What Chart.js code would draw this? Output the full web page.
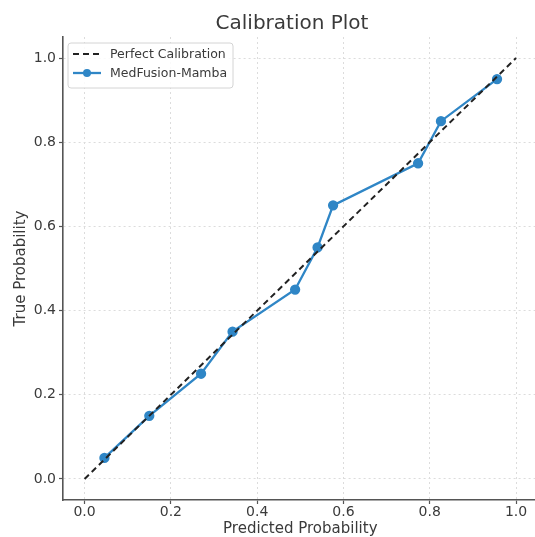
<!DOCTYPE html>
<html>
<head>
<meta charset="utf-8">
<script src="https://cdn.jsdelivr.net/npm/chart.js@4/dist/chart.umd.min.js"></script>
<style>
  html, body { margin: 0; padding: 0; background: #fff; overflow: hidden; }
  #calib { position: absolute; left: 0; top: 0; }
</style>
</head>
<body>
<canvas id="calib" width="584" height="545"></canvas>
<script>
const perfectX = [0, 1];
const perfectY = [0, 1];
const predictedProb = [0.046, 0.15, 0.27, 0.343, 0.488, 0.54, 0.576, 0.773, 0.826, 0.956];
const trueProb = [0.05, 0.15, 0.25, 0.35, 0.45, 0.55, 0.65, 0.75, 0.85, 0.95];
const tickValues = [0, 0.2, 0.4, 0.6, 0.8, 1.0];

const textColor = "#3a3a3a";
const blue = "#2f86c6";

// the source image has its title a bit left of the axes centre
const titleShift = {
  id: "titleShift",
  afterLayout(chart) {
    if (chart.titleBlock) {
      chart.titleBlock.left = 0;
      chart.titleBlock.right = 584;
    }
  }
};

// legend drawn as a framed box inside the plot, matplotlib style
const boxLegend = {
  id: "boxLegend",
  afterDatasetsDraw(chart) {
    const ctx = chart.ctx;
    const x = 68, y = 43, w = 165, h = 45;
    ctx.save();
    ctx.fillStyle = "rgba(255,255,255,0.85)";
    ctx.strokeStyle = "#d4d4d4";
    ctx.lineWidth = 1;
    ctx.beginPath();
    ctx.roundRect(x, y, w, h, 3);
    ctx.fill();
    ctx.stroke();
    ctx.font = "12.5px 'DejaVu Sans'";
    ctx.textBaseline = "middle";
    chart.data.datasets.forEach((ds, i) => {
      const ly = 54 + i * 19;
      ctx.strokeStyle = ds.borderColor;
      ctx.lineWidth = ds.borderWidth;
      ctx.setLineDash(ds.borderDash || []);
      ctx.beginPath();
      ctx.moveTo(73, ly);
      ctx.lineTo(101, ly);
      ctx.stroke();
      ctx.setLineDash([]);
      if (ds.pointRadius > 0) {
        ctx.fillStyle = ds.pointBackgroundColor;
        ctx.beginPath();
        ctx.arc(87, ly, ds.pointRadius, 0, Math.PI * 2);
        ctx.fill();
      }
      ctx.fillStyle = textColor;
      ctx.fillText(ds.label, 110, ly + 1);
    });
    ctx.restore();
  }
};

function axisOptions(title, side) {
  return {
    type: "linear",
    position: side,
    min: -0.05,
    max: 1.05,
    afterBuildTicks: (scale) => {
      scale.ticks = tickValues.map((v) => ({ value: v }));
    },
    afterFit: (scale) => {
      if (side === "left") scale.width = 63;
      else scale.height = 45;
      scale.paddingLeft = 0;
      scale.paddingRight = 0;
      scale.paddingTop = 0;
      scale.paddingBottom = 0;
    },
    ticks: {
      color: textColor,
      font: { family: "DejaVu Sans", size: 14 },
      padding: side === "left" ? 3 : 0,
      callback: (v) => v.toFixed(1)
    },
    grid: {
      color: "#dcdcdc",
      lineWidth: 1,
      tickColor: "#555",
      tickLength: 4,
      tickWidth: 1.2
    },
    border: { color: "#555", width: 1.6, dash: [2, 3] },
    title: {
      display: true,
      text: title,
      color: textColor,
      font: { family: "DejaVu Sans", size: 15 },
      padding: side === "left" ? { top: 12, bottom: 12 } : { top: 7, bottom: 7 }
    }
  };
}

new Chart(document.getElementById("calib").getContext("2d"), {
  type: "line",
  data: {
    datasets: [
      {
        label: "Perfect Calibration",
        data: perfectX.map((x, i) => ({ x: x, y: perfectY[i] })),
        borderColor: "#222",
        borderWidth: 2,
        borderDash: [6, 4],
        pointRadius: 0,
        fill: false
      },
      {
        label: "MedFusion-Mamba",
        data: predictedProb.map((x, i) => ({ x: x, y: trueProb[i] })),
        borderColor: blue,
        backgroundColor: blue,
        pointBackgroundColor: blue,
        pointBorderColor: blue,
        borderWidth: 2.3,
        pointRadius: 4,
        fill: false
      }
    ]
  },
  options: {
    responsive: false,
    animation: false,
    layout: { padding: { left: 0, right: 46.4, top: 0, bottom: 0 } },
    plugins: {
      legend: { display: false },
      tooltip: { enabled: false },
      title: {
        display: true,
        text: "Calibration Plot",
        color: textColor,
        font: { family: "DejaVu Sans", size: 20, weight: "normal" },
        padding: { top: 12, bottom: 1 }
      }
    },
    scales: {
      x: axisOptions("Predicted Probability", "bottom"),
      y: axisOptions("True Probability", "left")
    }
  },
  plugins: [titleShift, boxLegend]
});
</script>
</body>
</html>
